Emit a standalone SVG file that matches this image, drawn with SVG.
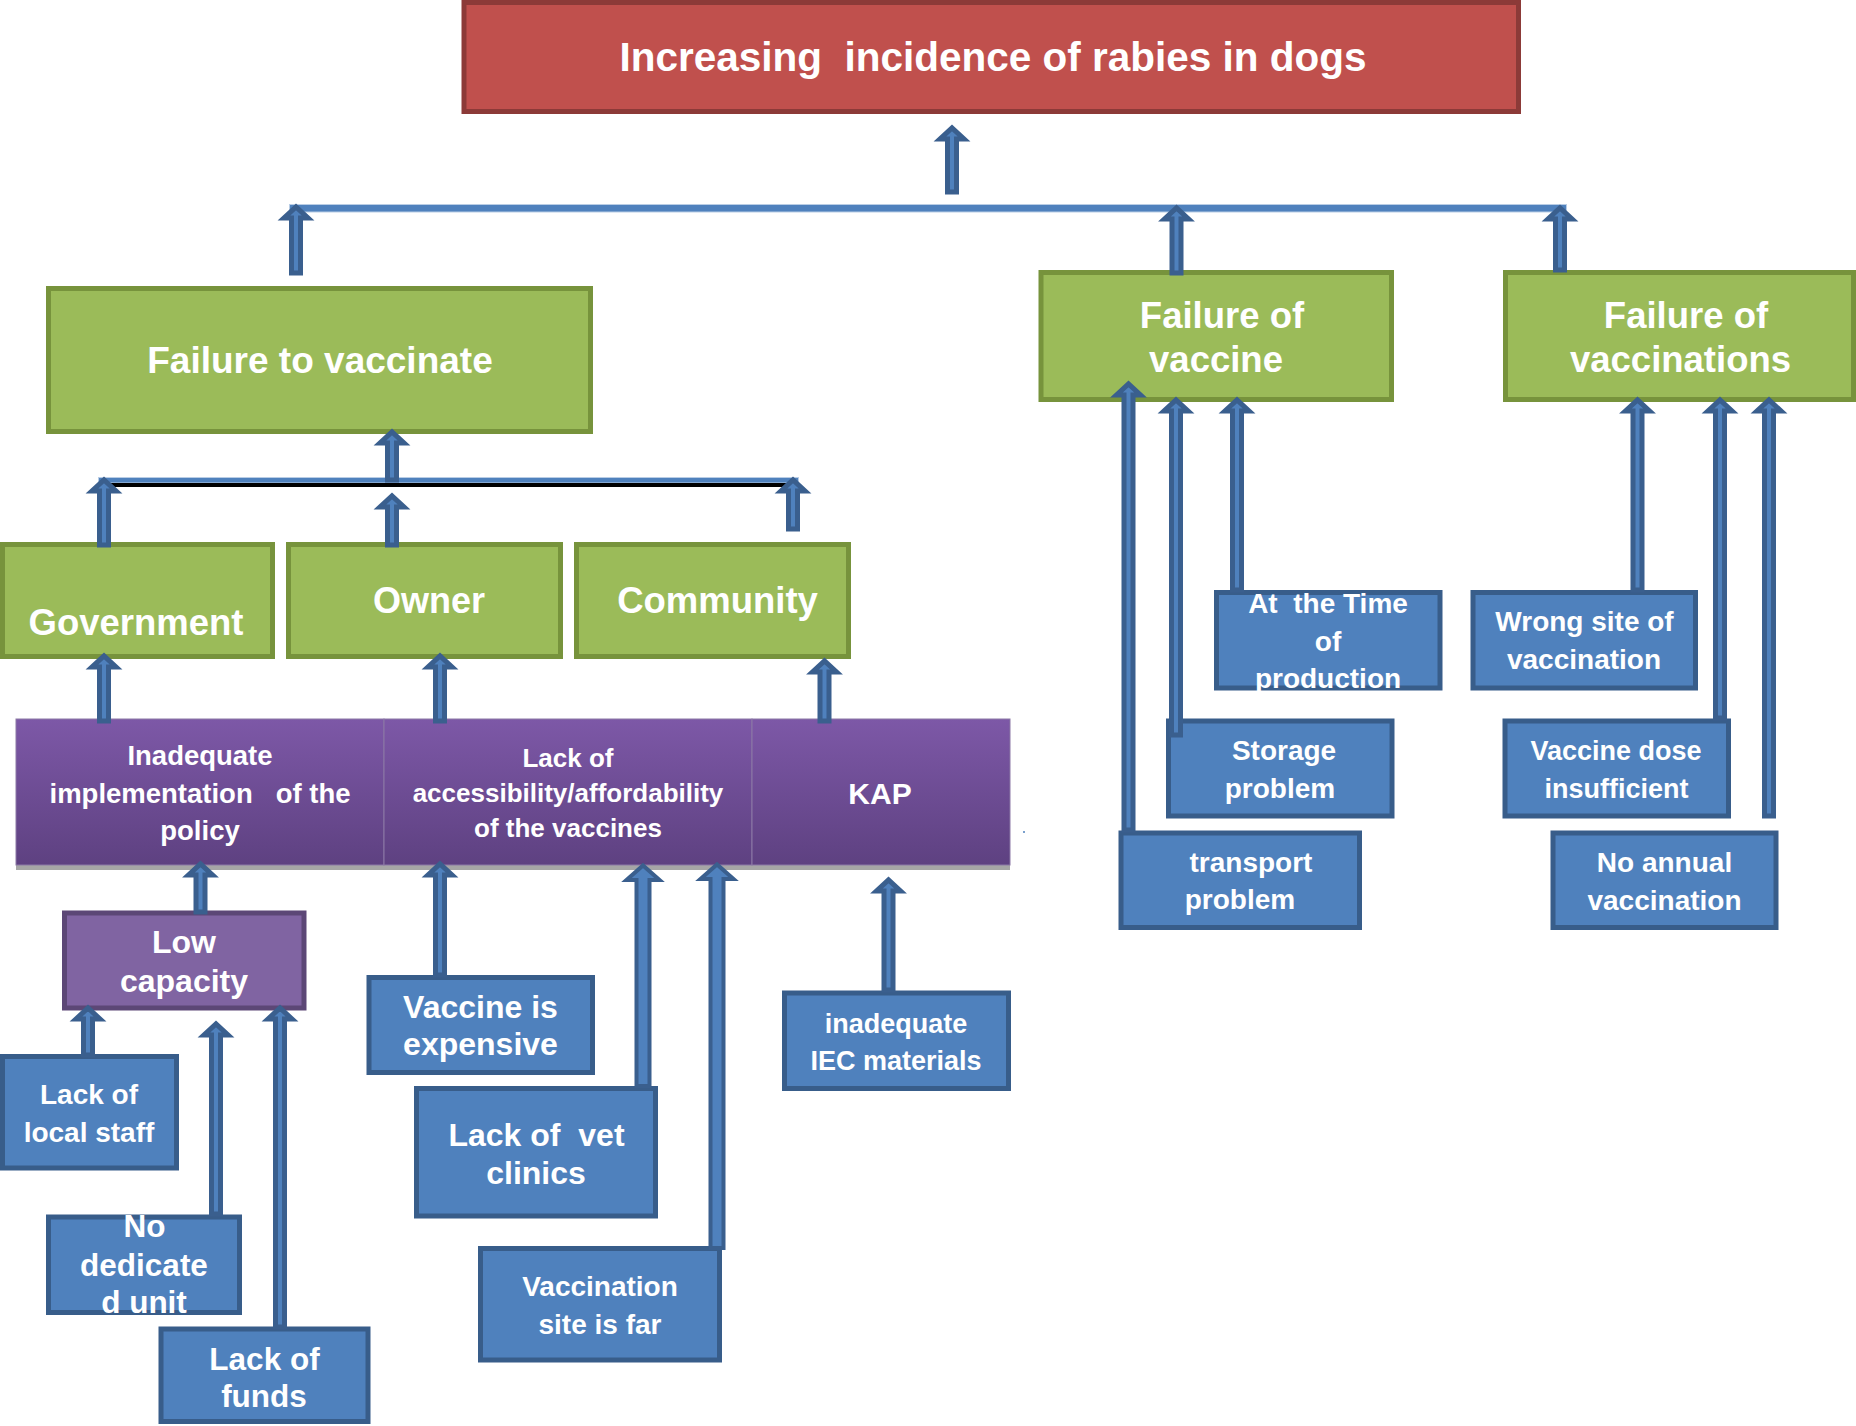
<svg xmlns="http://www.w3.org/2000/svg" width="1856" height="1426" viewBox="0 0 1856 1426">
<defs>
<linearGradient id="pg" x1="0" y1="0" x2="0" y2="1">
<stop offset="0" stop-color="#7D58A7"/>
<stop offset="1" stop-color="#5E4181"/>
</linearGradient>
</defs>
<style>
.t{font-family:"Liberation Sans",Arial,sans-serif;font-weight:700;fill:#fff;text-anchor:middle;white-space:pre}
.red rect{fill:#C0504D;stroke:#8C3A38;stroke-width:5}
.g rect{fill:#9BBB59;stroke:#77933C;stroke-width:5}
.b rect{fill:#4F81BD;stroke:#385D8A;stroke-width:5}
.lp rect{fill:#8064A2;stroke:#5C4776;stroke-width:5}
.p rect{fill:url(#pg);stroke:#8B78A5;stroke-width:1}
.arr{fill:#4F81BD;stroke:#3A5F8E;stroke-width:5;stroke-linejoin:miter}
.arrf{fill:#4F81BD;stroke:#3A5F8E;stroke-width:4;stroke-linejoin:miter}
.bar{fill:#4F81BD;stroke:#B9CDE5;stroke-width:1}
</style>
<rect width="1856" height="1426" fill="#fff"/>

<g id="nodes">
<g id="n-top" class="red">
<rect x="464" y="2.5" width="1054.5" height="109"/>
<text class="t" x="993" y="71" font-size="40.5" xml:space="preserve">Increasing  incidence of rabies in dogs</text>
</g>

<g id="n-ftv" class="g">
<rect x="48.5" y="288.5" width="542" height="143"/>
<text class="t" x="320" y="373" font-size="37">Failure to vaccinate</text>
</g>
<g id="n-fov" class="g">
<rect x="1041" y="272.5" width="350.5" height="127"/>
<text class="t" x="1222" y="328" font-size="36.5">Failure of</text>
<text class="t" x="1216" y="372" font-size="36.5">vaccine</text>
</g>
<g id="n-fovs" class="g">
<rect x="1505.5" y="272.5" width="348" height="127"/>
<text class="t" x="1686" y="328" font-size="36.5">Failure of</text>
<text class="t" x="1680.5" y="372" font-size="36.5">vaccinations</text>
</g>

<g id="n-gov" class="g">
<rect x="2.5" y="544.5" width="270" height="112"/>
<text class="t" x="136" y="635" font-size="36.5">Government</text>
</g>
<g id="n-owner" class="g">
<rect x="288.5" y="544.5" width="272" height="112"/>
<text class="t" x="429" y="613" font-size="36">Owner</text>
</g>
<g id="n-comm" class="g">
<rect x="576.5" y="544.5" width="272" height="112"/>
<text class="t" x="717.5" y="613" font-size="36.5">Community</text>
</g>

<rect x="16" y="864" width="994" height="6" fill="#A6A6A6"/>
<g id="n-policy" class="p">
<rect x="16" y="719" width="368" height="146"/>
<text class="t" x="200" y="765" font-size="27.5">Inadequate</text>
<text class="t" x="200" y="803" font-size="27.5" xml:space="preserve">implementation   of the</text>
<text class="t" x="200" y="840" font-size="27.5">policy</text>
</g>
<g id="n-access" class="p">
<rect x="384" y="719" width="368" height="146"/>
<text class="t" x="568" y="767" font-size="26">Lack of</text>
<text class="t" x="568" y="802" font-size="26">accessibility/affordability</text>
<text class="t" x="568" y="837" font-size="26">of the vaccines</text>
</g>
<g id="n-kap" class="p">
<rect x="752" y="719" width="258" height="146"/>
<text class="t" x="880" y="804" font-size="30">KAP</text>
</g>

<g id="n-lowcap" class="lp">
<rect x="64.5" y="913" width="239.5" height="95"/>
<text class="t" x="184" y="953" font-size="32">Low</text>
<text class="t" x="184" y="992" font-size="32">capacity</text>
</g>

<g id="n-staff" class="b">
<rect x="2.5" y="1056.5" width="174" height="111.5"/>
<text class="t" x="89" y="1104" font-size="28">Lack of</text>
<text class="t" x="89" y="1141.5" font-size="28">local staff</text>
</g>
<g id="n-unit" class="b">
<rect x="48.5" y="1217" width="191" height="95.5"/>
<text class="t" x="144.5" y="1237" font-size="31.5">No</text>
<text class="t" x="144" y="1276" font-size="31.5">dedicate</text>
<text class="t" x="144" y="1313" font-size="31.5">d unit</text>
</g>
<g id="n-funds" class="b">
<rect x="161" y="1329" width="207" height="92.5"/>
<text class="t" x="264.5" y="1370" font-size="31.5">Lack of</text>
<text class="t" x="264" y="1407" font-size="31.5">funds</text>
</g>
<g id="n-expensive" class="b">
<rect x="369" y="977.5" width="223.5" height="95"/>
<text class="t" x="480.5" y="1018" font-size="32">Vaccine is</text>
<text class="t" x="480.5" y="1055" font-size="32">expensive</text>
</g>
<g id="n-vet" class="b">
<rect x="416.5" y="1088.5" width="239" height="127.5"/>
<text class="t" x="536.5" y="1146" font-size="32" xml:space="preserve">Lack of  vet</text>
<text class="t" x="536" y="1184" font-size="32">clinics</text>
</g>
<g id="n-far" class="b">
<rect x="480.5" y="1248.5" width="239" height="111.5"/>
<text class="t" x="600" y="1296" font-size="28">Vaccination</text>
<text class="t" x="600" y="1333.5" font-size="28">site is far</text>
</g>
<g id="n-iec" class="b">
<rect x="784.5" y="993" width="224" height="95.5"/>
<text class="t" x="896" y="1032.5" font-size="27">inadequate</text>
<text class="t" x="896" y="1070" font-size="27">IEC materials</text>
</g>

<g id="n-time" class="b">
<rect x="1216.5" y="592.5" width="223.5" height="95.5"/>
<text class="t" x="1328" y="613" font-size="28" xml:space="preserve">At  the Time</text>
<text class="t" x="1328" y="650.5" font-size="28">of</text>
<text class="t" x="1328" y="688" font-size="28">production</text>
</g>
<g id="n-storage" class="b">
<rect x="1168.5" y="721" width="223.5" height="95"/>
<text class="t" x="1284" y="760" font-size="28">Storage</text>
<text class="t" x="1280" y="798" font-size="28">problem</text>
</g>
<g id="n-transport" class="b">
<rect x="1121" y="833" width="238.5" height="94.5"/>
<text class="t" x="1251" y="872" font-size="28">transport</text>
<text class="t" x="1240" y="909" font-size="28">problem</text>
</g>
<g id="n-site" class="b">
<rect x="1473" y="592.5" width="222.5" height="95.5"/>
<text class="t" x="1584.5" y="631" font-size="28">Wrong site of</text>
<text class="t" x="1584" y="669" font-size="28">vaccination</text>
</g>
<g id="n-dose" class="b">
<rect x="1505" y="721" width="223.5" height="95"/>
<text class="t" x="1616" y="759.5" font-size="27">Vaccine dose</text>
<text class="t" x="1616.5" y="798" font-size="27">insufficient</text>
</g>
<g id="n-annual" class="b">
<rect x="1553" y="833" width="223" height="94.5"/>
<text class="t" x="1664.5" y="872" font-size="28">No annual</text>
<text class="t" x="1664.5" y="909.5" font-size="28">vaccination</text>
</g>
</g>

<g id="connectors">
<rect class="bar" x="289.5" y="204.5" width="1277" height="7.5"/>
<rect class="bar" x="98.5" y="477.5" width="700" height="5.5"/>
<rect x="109" y="483" width="678" height="4" fill="#000"/>
<path class="arr" d="M947.5,192 V139 H940 L952,128 L964,139 H956.5 V192 Z"/>
<path class="arr" d="M291.5,273 V218 H284 L296,207 L308,218 H300.5 V273 Z"/>
<path class="arr" d="M1172,273 V219 H1164.5 L1176.5,208 L1188.5,219 H1181 V273 Z"/>
<path class="arr" d="M1555.5,270 V219 H1548 L1560,208 L1572,219 H1564.5 V270 Z"/>
<path class="arr" d="M387.5,480 V443 H380 L392,432 L404,443 H396.5 V480 Z"/>
<path class="arr" d="M99.5,545 V491 H92 L104,480 L116,491 H108.5 V545 Z"/>
<path class="arr" d="M387.5,545 V507 H380 L392,496 L404,507 H396.5 V545 Z"/>
<path class="arr" d="M788.5,529 V491 H781 L793,480 L805,491 H797.5 V529 Z"/>
<path class="arr" d="M99.5,721 V667 H92 L104,656 L116,667 H108.5 V721 Z"/>
<path class="arr" d="M435.5,721 V667 H428 L440,656 L452,667 H444.5 V721 Z"/>
<path class="arr" d="M820,721 V672 H812.5 L824.5,661 L836.5,672 H829 V721 Z"/>
<path class="arr" d="M196,912 V875 H188.5 L200.5,864 L212.5,875 H205 V912 Z"/>
<path class="arr" d="M83.5,1055 V1019 H76 L88,1008 L100,1019 H92.5 V1055 Z"/>
<path class="arr" d="M211.5,1214 V1035 H204 L216,1024 L228,1035 H220.5 V1214 Z"/>
<path class="arr" d="M275.5,1327 V1019 H268 L280,1008 L292,1019 H284.5 V1327 Z"/>
<path class="arr" d="M435.5,975 V875 H428 L440,864 L452,875 H444.5 V975 Z"/>
<path class="arrf" d="M636.5,1086 V880 H626.5 L643,865.5 L659.5,880 H649.5 V1086 Z"/>
<path class="arrf" d="M710.5,1248 V879 H700.5 L717,864.5 L733.5,879 H723.5 V1248 Z"/>
<path class="arr" d="M884,990 V891 H876.5 L888.5,880 L900.5,891 H893 V990 Z"/>
<path class="arr" d="M1124,830 V395 H1116.5 L1128.5,384 L1140.5,395 H1133 V830 Z"/>
<path class="arr" d="M1171.5,735 V411 H1164 L1176,400 L1188,411 H1180.5 V735 Z"/>
<path class="arr" d="M1232.5,590 V411 H1225 L1237,400 L1249,411 H1241.5 V590 Z"/>
<path class="arr" d="M1633,590 V411 H1625.5 L1637.5,400 L1649.5,411 H1642 V590 Z"/>
<path class="arr" d="M1715.5,718 V411 H1708 L1720,400 L1732,411 H1724.5 V718 Z"/>
<path class="arr" d="M1764.5,816 V411 H1757 L1769,400 L1781,411 H1773.5 V816 Z"/>
</g>
<circle cx="1024" cy="832" r="1" fill="#4F81BD"/>
</svg>
